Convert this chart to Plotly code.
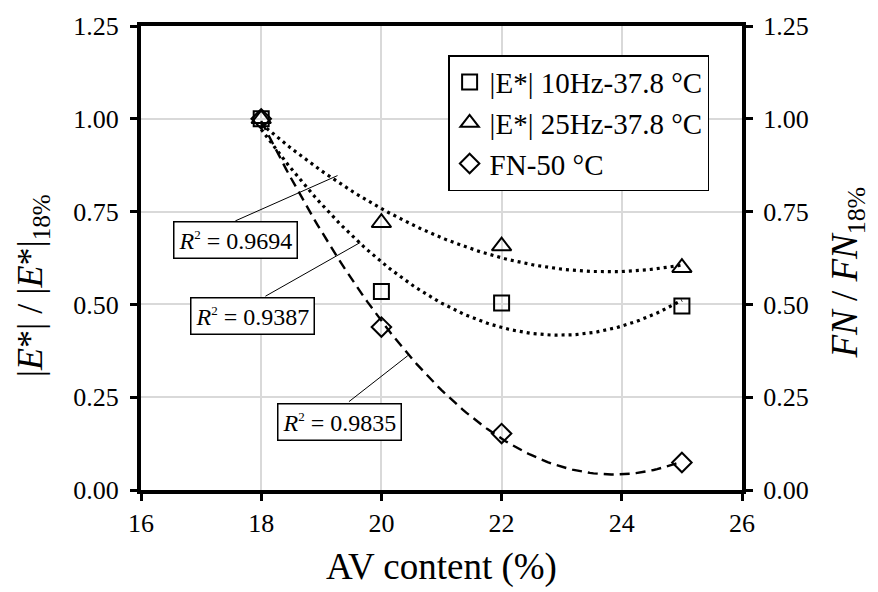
import numpy as np
import plotly.graph_objects as go

# Air-void content (%) and normalised responses
av_content = [18, 20, 22, 25]
e_10hz = [1.00, 0.535, 0.504, 0.496]
e_25hz = [1.00, 0.720, 0.657, 0.599]
fn_50c = [1.00, 0.439, 0.152, 0.074]

series_names = ["|E*| 10Hz-37.8 °C", "|E*| 25Hz-37.8 °C", "FN-50 °C"]
r2_labels = ["0.9694", "0.9387", "0.9835"]

x_ticks = [16, 18, 20, 22, 24, 26]
y_ticks = [0.00, 0.25, 0.50, 0.75, 1.00, 1.25]

FONT = "Liberation Serif, Times New Roman, serif"


def quad_trend(x, y, n=120):
    """Second-order polynomial trendline over the measured range."""
    coef = np.polyfit(x, y, 2)
    xs = np.linspace(min(x), max(x), n)
    return xs, np.polyval(coef, xs)


fig = go.Figure()

# Trendlines
for y, yaxis, dash, width in [
    (e_25hz, "y", "3px,4px", 3.2),
    (e_10hz, "y", "3px,4px", 3.2),
    (fn_50c, "y2", "10px,6px", 2.4),
]:
    xs, ys = quad_trend(av_content, y)
    fig.add_trace(go.Scatter(
        x=xs, y=ys, mode="lines", yaxis=yaxis, showlegend=False,
        line=dict(color="black", width=width, dash=dash), hoverinfo="skip",
    ))

# Measured points
for name, y, yaxis, symbol, size in [
    (series_names[0], e_10hz, "y", "square-open", 15),
    (series_names[1], e_25hz, "y", "triangle-up-open", 17),
    (series_names[2], fn_50c, "y2", "diamond-open", 15),
]:
    fig.add_trace(go.Scatter(
        x=av_content, y=y, mode="markers", name=name, yaxis=yaxis,
        legendgroup=name,
        marker=dict(symbol=symbol, size=size, color="black",
                    line=dict(color="black", width=2)),
    ))

# R² labels: (box centre x, box centre y, leader start, leader end)
r2_layout = [
    (17.57, 0.674, (17.57, 0.725), (19.27, 0.847)),
    (17.85, 0.470, (18.07, 0.522), (19.65, 0.667)),
    (19.31, 0.183, (19.46, 0.238), (20.44, 0.362)),
]
for label, (bx, by, p0, p1) in zip(r2_labels, r2_layout):
    fig.add_shape(type="line", xref="x", yref="y",
                  x0=p0[0], y0=p0[1], x1=p1[0], y1=p1[1],
                  line=dict(color="black", width=1))
    fig.add_annotation(
        x=bx, y=by, xref="x", yref="y", showarrow=False,
        xanchor="center", yanchor="middle",
        text=(f"<i>R</i><sup><span style='font-size:13px'>2</span></sup>"
              f" = {label}"),
        font=dict(family=FONT, size=24, color="black"),
        bgcolor="white", bordercolor="black", borderwidth=1.5, borderpad=4,
    )

# Axis titles
fig.add_annotation(
    x=0.5, y=-0.166, xref="paper", yref="paper", showarrow=False,
    xanchor="center", yanchor="middle",
    text="AV content (%)", font=dict(family=FONT, size=37, color="black"),
)
fig.add_annotation(
    x=-0.18, y=0.441, xref="paper", yref="paper", showarrow=False,
    xanchor="center", yanchor="middle", textangle=-90,
    text="|<i>E</i>*| / |<i>E</i>*|<sub>18%</sub>",
    font=dict(family=FONT, size=36, color="black"),
)
fig.add_annotation(
    x=1.176, y=0.468, xref="paper", yref="paper", showarrow=False,
    xanchor="center", yanchor="middle", textangle=-90,
    text="<i>FN</i> / <i>FN</i><sub>18%</sub>",
    font=dict(family=FONT, size=37, color="black"),
)

tick_font = dict(family=FONT, size=26, color="black")
common_y = dict(
    range=[0, 1.25], tickvals=y_ticks, tickformat=".2f",
    ticks="outside", ticklen=7, tickwidth=3, tickcolor="black",
    showline=True, linewidth=4, linecolor="black",
    tickfont=tick_font, zeroline=False,
)

fig.update_layout(
    width=878, height=592,
    margin=dict(l=141, r=136, t=20, b=102),
    plot_bgcolor="white", paper_bgcolor="white",
    font=dict(family=FONT, color="black"),
    xaxis=dict(
        range=[16, 26], tickvals=x_ticks,
        ticks="outside", ticklen=7, tickwidth=3, tickcolor="black",
        showline=True, linewidth=4, linecolor="black", mirror=True,
        showgrid=True, gridcolor="#d9d9d9", gridwidth=1.5,
        tickfont=tick_font, zeroline=False,
    ),
    yaxis=dict(**common_y, side="left", showgrid=True,
               gridcolor="#d9d9d9", gridwidth=1.5, ticklabelstandoff=6),
    yaxis2=dict(**common_y, side="right", overlaying="y", showgrid=False,
                ticklabelstandoff=5),
    legend=dict(
        x=0.511, y=0.937, xanchor="left", yanchor="top",
        bgcolor="white", bordercolor="black", borderwidth=1.5,
        font=dict(family=FONT, size=29, color="black"),
        tracegroupgap=3, traceorder="normal",
    ),
    showlegend=True,
)

fig.write_html("out.html")
